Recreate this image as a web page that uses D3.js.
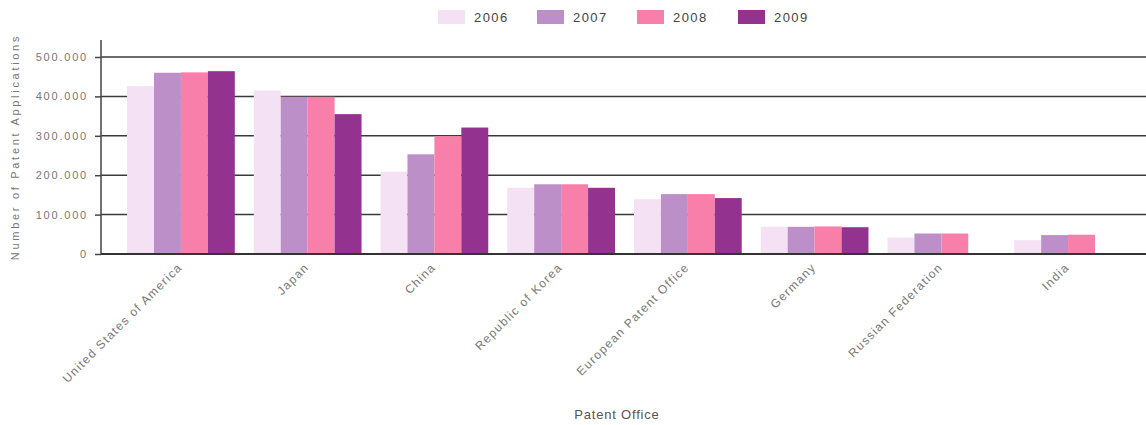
<!DOCTYPE html>
<html>
<head>
<meta charset="utf-8">
<script src="https://cdn.jsdelivr.net/npm/d3@7"></script>
<style>
  body { margin: 0; background: #fff; }
  text { font-family: Arial, "Liberation Sans", sans-serif; }
</style>
</head>
<body>
<div id="chart-area"></div>
<script>
var offices = ["United States of America", "Japan", "China", "Republic of Korea",
    "European Patent Office", "Germany", "Russian Federation", "India"];
var years = ["2006", "2007", "2008", "2009"];
var v2006 = [426000, 415000, 209000, 168000, 139000, 69000, 42000, 35000];
var v2007 = [460000, 399000, 253000, 177000, 152000, 69000, 52000, 48000];
var v2008 = [461000, 399000, 299000, 177000, 152000, 70000, 52000, 49000];
var v2009 = [464000, 355000, 321000, 168000, 142000, 68000, 0, 0];
var yTicks = [0, 100000, 200000, 300000, 400000, 500000];
var colorList = ["#f5e1f4", "#bd8fc8", "#f97fab", "#94338f"];

var series = [v2006, v2007, v2008, v2009];

var W = 1146, H = 425;
var svg = d3.select("#chart-area").append("svg")
    .attr("width", W)
    .attr("height", H);

var y = d3.scaleLinear()
    .domain([0, 500000])
    .range([254, 57]);

var x = d3.scaleBand()
    .domain(offices)
    .range([103, W])
    .paddingInner(0.15)
    .paddingOuter(0.19);

var x1 = d3.scaleBand()
    .domain(years)
    .range([0, x.bandwidth()]);

var colors = d3.scaleOrdinal()
    .domain(years)
    .range(colorList);

var fmt = d3.formatLocale({ decimal: ",", thousands: ".", grouping: [3], currency: ["", ""] }).format(",");

// gridlines
svg.append("g")
    .selectAll("line")
    .data(yTicks)
    .enter().append("line")
    .attr("x1", 101)
    .attr("x2", W)
    .attr("y1", d => y(d))
    .attr("y2", d => y(d))
    .attr("stroke", "#3a3a3a")
    .attr("stroke-width", 1.5);

// bars
var rows = [];
offices.forEach((o, i) => {
    years.forEach((yr, j) => {
        if (series[j][i] > 0) rows.push({ office: o, year: yr, value: series[j][i] });
    });
});

svg.append("g")
    .selectAll("rect")
    .data(rows)
    .enter().append("rect")
    .attr("x", d => x(d.office) + x1(d.year))
    .attr("y", d => y(d.value))
    .attr("width", x1.bandwidth())
    .attr("height", d => y(0) - y(d.value))
    .attr("fill", d => colors(d.year));

// left axis
var leftAxis = d3.axisLeft(y)
    .tickValues(yTicks)
    .tickSize(6)
    .tickPadding(7)
    .tickFormat(d => fmt(d));

var gy = svg.append("g")
    .attr("transform", "translate(101,0)")
    .call(leftAxis);
gy.select(".domain").remove();
gy.selectAll("line").attr("stroke", "#444").attr("stroke-width", 1.5);
gy.selectAll("text")
    .attr("fill", "#777")
    .attr("font-size", "11px")
    .attr("letter-spacing", "1.8px");

svg.append("line")
    .attr("x1", 101).attr("x2", 101)
    .attr("y1", 40).attr("y2", y(0))
    .attr("stroke", "#444")
    .attr("stroke-width", 1.5);

svg.append("line")
    .attr("x1", 101).attr("x2", W)
    .attr("y1", y(0)).attr("y2", y(0))
    .attr("stroke", "#333")
    .attr("stroke-width", 2);

// bottom labels
var bottomAxis = d3.axisBottom(x).tickSize(0).tickPadding(0);
var gx = svg.append("g")
    .attr("transform", "translate(0," + y(0) + ")")
    .call(bottomAxis);
gx.select(".domain").remove();
gx.selectAll("text")
    .attr("fill", "#777")
    .attr("font-size", "12px")
    .attr("letter-spacing", "1.3px")
    .attr("text-anchor", "end")
    .attr("dy", 0)
    .attr("y", 0)
    .attr("transform", "translate(2,14) rotate(-45)");

// axis titles
svg.append("text")
    .attr("x", 617)
    .attr("y", 419)
    .attr("text-anchor", "middle")
    .attr("font-size", "13px")
    .attr("letter-spacing", "0.8px")
    .attr("fill", "#555")
    .text("Patent Office");

svg.append("text")
    .attr("transform", "translate(19,147) rotate(-90)")
    .attr("text-anchor", "middle")
    .attr("font-size", "11px")
    .attr("letter-spacing", "2.7px")
    .attr("fill", "#777")
    .text("Number of Patent Applications");

// legend
var legendX = [438, 537, 637, 738];
var legend = svg.append("g")
    .selectAll("g")
    .data(years)
    .enter().append("g")
    .attr("transform", (d, i) => "translate(" + legendX[i] + ",10)");
legend.append("rect")
    .attr("width", 27)
    .attr("height", 14)
    .attr("fill", d => colors(d));
legend.append("text")
    .attr("x", 36)
    .attr("y", 12)
    .attr("font-size", "13px")
    .attr("letter-spacing", "1.4px")
    .attr("fill", "#444")
    .text(d => d);
</script>
</body>
</html>
